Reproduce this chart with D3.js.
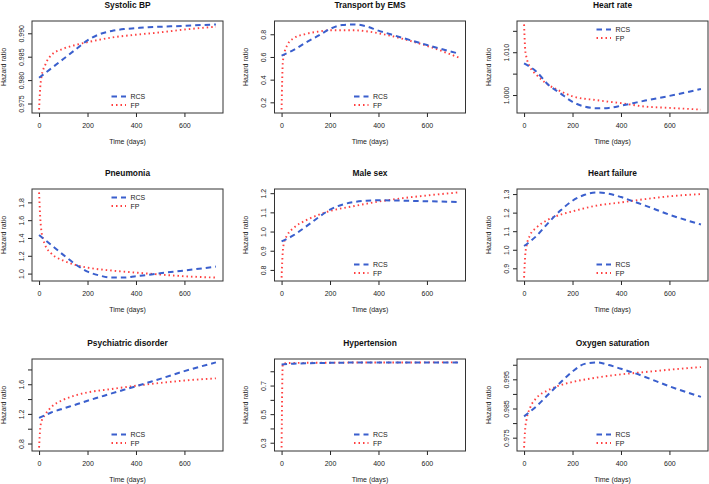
<!DOCTYPE html>
<html><head><meta charset="utf-8">
<script src="https://cdn.jsdelivr.net/npm/d3@7"></script>
<style>
body{margin:0;background:#fff;}
svg{font-family:"Liberation Sans",Arial,Helvetica,sans-serif;}
</style></head>
<body>
<svg id="chart" width="709" height="484"></svg>
<script>
// ---------- data ----------
const titles = ["Systolic BP","Transport by EMS","Heart rate","Pneumonia","Male sex","Heart failure","Psychiatric disorder","Hypertension","Oxygen saturation"];
const seriesNames = ["RCS","FP"];
const rcsTimes = [0,50,100,150,200,250,300,350,400,450,500,600,730];
const fpTimes  = [0,5,10,25,50,100,150,200,300,400,500,600,730];
const xTicks = [0,200,400,600];

const sbpRCS = [0.9805,0.9825,0.9845,0.9865,0.9885,0.9898,0.9905,0.9909,0.9911,0.9913,0.9914,0.9916,0.9919];
const sbpFP  = [0.9737,0.9786,0.9807,0.9832,0.9853,0.9867,0.9875,0.9881,0.9891,0.9897,0.9902,0.9908,0.9914];
const emsRCS = [0.612,0.662,0.727,0.785,0.847,0.882,0.887,0.870,0.832,0.800,0.768,0.706,0.630];
const emsFP  = [0.136,0.547,0.620,0.710,0.765,0.803,0.823,0.835,0.835,0.809,0.760,0.698,0.596];
const hrRCS  = [1.0074,1.0055,1.0024,1.0004,0.9984,0.9973,0.9969,0.9970,0.9975,0.9981,0.9987,0.9998,1.0014];
const hrFP   = [1.0165,1.0104,1.0088,1.0065,1.0048,1.0024,1.0009,0.9997,0.9988,0.9981,0.9973,0.9970,0.9966];
const pneRCS = [1.434,1.322,1.210,1.105,1.022,0.978,0.955,0.955,0.970,0.985,1.004,1.034,1.079];
const pneFP  = [1.912,1.621,1.471,1.322,1.228,1.146,1.097,1.067,1.034,1.011,0.989,0.970,0.955];
const maleRCS = [0.949,0.981,1.025,1.072,1.114,1.140,1.154,1.161,1.163,1.162,1.161,1.158,1.154];
const maleFP  = [0.760,0.896,0.940,0.984,1.019,1.058,1.086,1.107,1.133,1.156,1.174,1.188,1.204];
const hfRCS  = [1.020,1.073,1.145,1.211,1.264,1.296,1.309,1.302,1.284,1.261,1.238,1.189,1.136];
const hfFP   = [0.850,0.975,1.020,1.079,1.118,1.163,1.189,1.207,1.238,1.255,1.273,1.288,1.300];
const psyRCS = [1.145,1.218,1.273,1.323,1.377,1.427,1.477,1.525,1.573,1.623,1.673,1.777,1.895];
const psyFP  = [0.745,1.009,1.100,1.190,1.290,1.390,1.450,1.490,1.536,1.580,1.618,1.650,1.680];
const htnRCS = [0.848,0.853,0.856,0.858,0.859,0.860,0.861,0.861,0.861,0.861,0.861,0.861,0.861];
const htnFP  = [0.266,0.852,0.855,0.857,0.858,0.859,0.860,0.860,0.861,0.861,0.861,0.862,0.862];
const oxyRCS = [0.9823,0.9857,0.9898,0.9939,0.9977,1.0003,1.0008,0.9999,0.9986,0.9973,0.9958,0.9926,0.9890];
const oxyFP  = [0.9716,0.9784,0.9812,0.9853,0.9885,0.9913,0.9930,0.9941,0.9956,0.9967,0.9975,0.9983,0.9992];

const yTicks = [
  [0.975,0.980,0.985,0.990],
  [0.2,0.4,0.6,0.8],
  [1.000,1.005,1.010,1.015],
  [1.0,1.2,1.4,1.6,1.8],
  [0.8,0.9,1.0,1.1,1.2],
  [0.9,1.0,1.1,1.2,1.3],
  [0.8,1.0,1.2,1.4,1.6,1.8],
  [0.3,0.4,0.5,0.6,0.7,0.8],
  [0.975,0.980,0.985,0.990,0.995,1.000]
];
const yTickLabels = [
  ["0.975","0.980","0.985","0.990"],
  ["0.2","0.4","0.6","0.8"],
  ["1.000","","1.010",""],
  ["1.0","1.2","1.4","1.6","1.8"],
  ["0.8","0.9","1.0","1.1","1.2"],
  ["0.9","1.0","1.1","1.2","1.3"],
  ["0.8","","1.2","","1.6",""],
  ["0.3","","0.5","","0.7",""],
  ["0.975","","0.985","","0.995",""]
];
const legendPos = ["bottom","bottom","top","top","bottom","bottom","bottom","bottom","bottom"];

const rcsAll = [sbpRCS,emsRCS,hrRCS,pneRCS,maleRCS,hfRCS,psyRCS,htnRCS,oxyRCS];
const fpAll  = [sbpFP,emsFP,hrFP,pneFP,maleFP,hfFP,psyFP,htnFP,oxyFP];

// ---------- layout ----------
const colLeft = [32, 274.5, 517];
const rowTop = [21, 189, 359];
const W = 191, H = 92;
const blue = "#3a5fcd", red = "#ff4040";
const ink = "#222";
const dashRCS = "5.5,4", dotFP = "1.5,3";

const svg = d3.select("#chart");

function padDomain(ext){ const d = (ext[1]-ext[0])*0.04; return [ext[0]-d, ext[1]+d]; }

titles.forEach((title,i)=>{
  const L = colLeft[i%3], T = rowTop[Math.floor(i/3)];
  const g = svg.append("g").attr("transform",`translate(${L},${T})`);
  const rcs = rcsAll[i].map((v,k)=>({t:rcsTimes[k],v}));
  const fp = fpAll[i].map((v,k)=>({t:fpTimes[k],v}));
  const x = d3.scaleLinear().domain(padDomain([0, d3.max(rcsTimes.concat(fpTimes))])).range([0,W]);
  const yExt = d3.extent(rcsAll[i].concat(fpAll[i]));
  const y = d3.scaleLinear().domain(padDomain(yExt)).range([H,0]);

  // axes
  const xa = g.append("g").attr("transform",`translate(0,${H})`)
    .call(d3.axisBottom(x).tickValues(xTicks).tickSize(4).tickPadding(6).tickFormat(d3.format("d")));
  xa.select(".domain").remove();
  xa.selectAll("line").attr("stroke",ink);
  xa.selectAll("text").attr("font-size",7).attr("fill",ink).attr("font-family",null);

  const labs = yTickLabels[i];
  const ya = g.append("g")
    .call(d3.axisLeft(y).tickValues(yTicks[i]).tickSize(4).tickFormat((d,k)=>labs[k]));
  ya.select(".domain").remove();
  ya.selectAll("line").attr("stroke",ink);
  ya.selectAll("text").attr("font-size",7).attr("fill",ink).attr("font-family",null)
    .attr("x",null).attr("dy",null)
    .attr("text-anchor","middle")
    .attr("transform","translate(-8.5,0) rotate(-90)");

  // lines
  const line = d3.line().x(d=>x(d.t)).y(d=>y(d.v)).curve(d3.curveMonotoneX);
  const clipId = "clip"+i;
  g.append("clipPath").attr("id",clipId).append("rect").attr("width",W).attr("height",H);
  const lg = g.append("g").attr("clip-path",`url(#${clipId})`);
  lg.append("path").datum(fp).attr("d",line).attr("fill","none")
    .attr("stroke",red).attr("stroke-width",1.9).attr("stroke-dasharray",dotFP);
  lg.append("path").datum(rcs).attr("d",line).attr("fill","none")
    .attr("stroke",blue).attr("stroke-width",2).attr("stroke-dasharray",dashRCS);

  // box
  g.append("rect").attr("width",W).attr("height",H).attr("fill","none").attr("stroke","#333").attr("stroke-width",1);

  // titles
  g.append("text").attr("x",W/2).attr("y",-13).attr("text-anchor","middle")
    .attr("font-size",8.4).attr("font-weight","bold").attr("fill","#111").text(title);
  g.append("text").attr("x",W/2).attr("y",H+31).attr("text-anchor","middle")
    .attr("font-size",7).attr("fill",ink).text("Time (days)");
  g.append("text").attr("transform",`translate(-26.5,${H/2}) rotate(-90)`).attr("text-anchor","middle")
    .attr("font-size",7).attr("fill",ink).text("Hazard ratio");

  // legend
  const cx = W/2;
  const ys = legendPos[i]==="top" ? [8.5,17] : [H-16.5,H-8];
  const styles = [{c:blue,da:dashRCS,w:2},{c:red,da:dotFP,w:1.9}];
  seriesNames.forEach((nm,k)=>{
    g.append("line").attr("x1",cx-16).attr("x2",cx-1.5).attr("y1",ys[k]).attr("y2",ys[k])
      .attr("stroke",styles[k].c).attr("stroke-width",styles[k].w).attr("stroke-dasharray",styles[k].da);
    g.append("text").attr("x",cx+3).attr("y",ys[k]+2.5).attr("font-size",7).attr("fill",ink).text(nm);
  });
});
</script>
</body></html>
